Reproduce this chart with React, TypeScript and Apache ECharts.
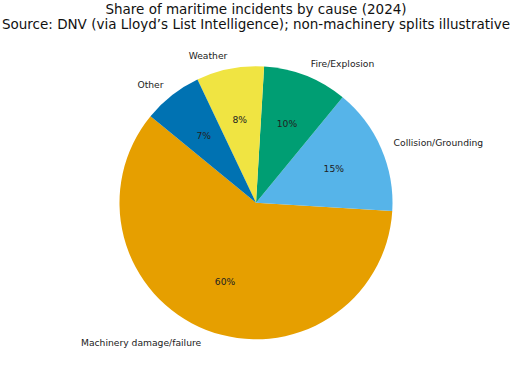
import React, { useEffect, useRef } from "react";
import * as echarts from "echarts";

const categories = ["Machinery damage/failure", "Collision/Grounding", "Fire/Explosion", "Weather", "Other"];
const shares = [60, 15, 10, 8, 7];
const colors = ["#E69F00", "#56B4E9", "#009E73", "#F0E442", "#0072B2"];
const titleLines = [
  "Share of maritime incidents by cause (2024)",
  "Source: DNV (via Lloyd\u2019s List Intelligence); non-machinery splits illustrative",
];

export default function App() {
  const ref = useRef<HTMLDivElement>(null);
  useEffect(() => {
    if (!ref.current) return;
    const chart = echarts.init(ref.current, undefined, { renderer: "svg" });
    const cx = 256;
    const cy = 202.8;
    const r = 136.5;
    const font = "DejaVu Sans";
    const data = categories.map((c, i) => ({ name: c, value: shares[i], itemStyle: { color: colors[i] } }));
    chart.setOption({
      animation: false,
      backgroundColor: "#ffffff",
      title: {
        text: titleLines.join("\n"),
        left: "center",
        top: -3,
        textStyle: { fontFamily: font, fontWeight: "normal", fontSize: 13.5, lineHeight: 14.5, color: "#111" },
      },
      series: [
        {
          type: "pie",
          center: [cx, cy],
          radius: r,
          clockwise: false,
          startAngle: 140.6,
          avoidLabelOverlap: false,
          silent: true,
          data,
          label: {
            show: true,
            position: "outside",
            formatter: "{b}",
            fontFamily: font,
            fontSize: 9.2,
            color: "#222",
            distanceToLabelLine: 0,
          },
          labelLine: { show: false, length: r * 0.1, length2: 0 },
        },
        {
          type: "pie",
          center: [cx, cy],
          radius: r * 1.2,
          clockwise: false,
          startAngle: 140.6,
          avoidLabelOverlap: false,
          silent: true,
          data: categories.map((c, i) => ({ name: c, value: shares[i] })),
          itemStyle: { color: "rgba(0,0,0,0)" },
          label: {
            show: true,
            position: "inside",
            formatter: (p: any) => `${p.value}%`,
            fontFamily: font,
            fontSize: 9.2,
            color: "#222",
          },
          labelLine: { show: false },
        },
      ],
    });
    return () => chart.dispose();
  }, []);
  return <div ref={ref} style={{ width: 512, height: 378, position: "absolute", left: 0, top: 0 }} />;
}
